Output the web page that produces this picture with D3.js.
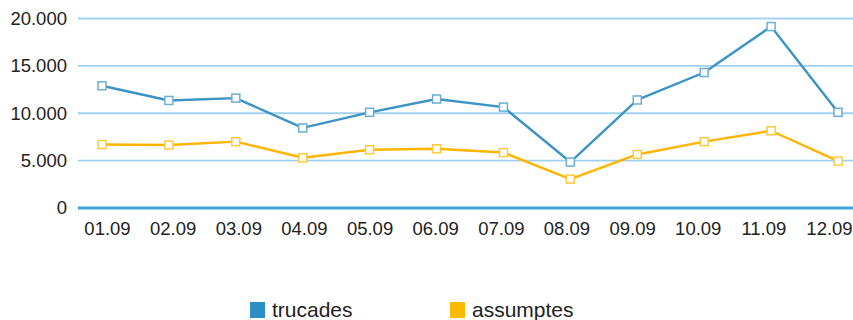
<!DOCTYPE html>
<html>
<head>
<meta charset="utf-8">
<script src="https://cdn.jsdelivr.net/npm/d3@7"></script>
<style>
  html, body { margin: 0; padding: 0; background: #fff; }
  svg { display: block; font-family: "Liberation Sans", Arial, Helvetica, sans-serif; }
</style>
</head>
<body>
<svg id="chart" width="853" height="320"></svg>
<script>
// Daily figures for September
const categories = ["01.09","02.09","03.09","04.09","05.09","06.09","07.09","08.09","09.09","10.09","11.09","12.09"];
const trucades   = [12900, 11350, 11600, 8450, 10100, 11500, 10650, 4850, 11400, 14300, 19150, 10100];
const assumptes  = [6700, 6650, 7000, 5300, 6150, 6250, 5850, 3050, 5650, 7000, 8150, 4950];
const yTicks     = [0, 5000, 10000, 15000, 20000];
const seriesNames  = ["trucades", "assumptes"];
const seriesColors = ["#3b93c6", "#ffb400"];
const markerColors = ["#6aaed6", "#ffc93a"];
const legendColors = ["#2b8fc4", "#ffb900"];

const svg = d3.select("#chart");
const W = 853;

const y = d3.scaleLinear().domain([0, 20000]).range([208, 18.5]);
const xPts = d3.scalePoint().domain(categories).range([102, 838]);
const xLab = d3.scalePoint().domain(categories).range([107, 829]);

const fmt = v => v === 0 ? "0" : d3.format(",")(v).replace(/,/g, ".");

// gridlines
svg.append("g").selectAll("line")
  .data(yTicks.filter(d => d > 0))
  .join("line")
  .attr("x1", 78).attr("x2", W)
  .attr("y1", d => y(d)).attr("y2", d => y(d))
  .attr("stroke", "#a2d1f0").attr("stroke-width", 1.8);

// zero baseline
svg.append("line")
  .attr("x1", 78).attr("x2", W)
  .attr("y1", y(0)).attr("y2", y(0))
  .attr("stroke", "#3fa2d9").attr("stroke-width", 3);

// y axis labels
const yAxis = d3.axisLeft(y).tickValues(yTicks).tickFormat(fmt).tickSize(0).tickPadding(0);
const gy = svg.append("g").attr("transform", "translate(67,0)").call(yAxis);
gy.select(".domain").remove();
gy.selectAll("text").attr("font-size", 18.5).attr("fill", "#222").attr("font-family", "Liberation Sans, Arial, sans-serif");

// x axis labels
const xAxis = d3.axisBottom(xLab).tickSize(0).tickPadding(0);
const gx = svg.append("g").attr("transform", "translate(0,222)").call(xAxis);
gx.select(".domain").remove();
gx.selectAll("text").attr("font-size", 18.5).attr("fill", "#222").attr("font-family", "Liberation Sans, Arial, sans-serif");

// series lines and markers
const allSeries = [trucades, assumptes];
const line = d3.line().x((d, i) => xPts(categories[i])).y(d => y(d));

allSeries.forEach((vals, si) => {
  svg.append("path")
    .datum(vals)
    .attr("d", line)
    .attr("fill", "none")
    .attr("stroke", seriesColors[si])
    .attr("stroke-width", 2.4)
    .attr("stroke-linejoin", "round");
  svg.append("g").selectAll("rect")
    .data(vals)
    .join("rect")
    .attr("x", (d, i) => xPts(categories[i]) - 4)
    .attr("y", d => y(d) - 4)
    .attr("width", 8).attr("height", 8)
    .attr("fill", "#fff")
    .attr("stroke", markerColors[si])
    .attr("stroke-width", 1.5);
});

// legend
const legendX = [250, 450];
const lg = svg.append("g");
seriesNames.forEach((name, i) => {
  lg.append("rect")
    .attr("x", legendX[i]).attr("y", 302)
    .attr("width", 15).attr("height", 16)
    .attr("fill", legendColors[i]);
  lg.append("text")
    .attr("x", legendX[i] + 22).attr("y", 317)
    .attr("font-size", 21).attr("fill", "#222")
    .text(name);
});
</script>
</body>
</html>
